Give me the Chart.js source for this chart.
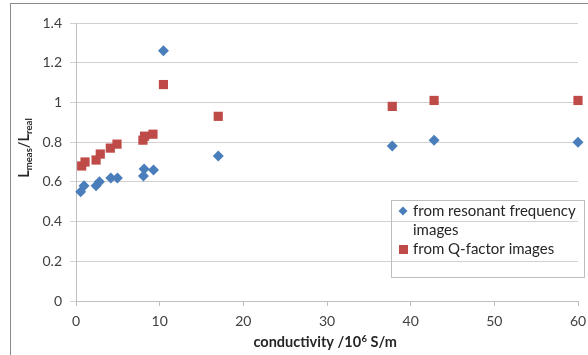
<!DOCTYPE html>
<html><head><meta charset="utf-8">
<script src="https://cdn.jsdelivr.net/npm/chart.js@4/dist/chart.umd.min.js"></script>
<style>html,body{margin:0;padding:0;background:#fff}#wrap{width:588px;height:355px;position:relative}</style>
</head><body><div id="wrap"><canvas id="c" width="588" height="355"></canvas></div>
<script>
// ---- data ----
const seriesNames = ['from resonant frequency images', 'from Q-factor images'];
const resonantX = [0.56, 0.96, 2.4, 2.8, 4.16, 4.95, 8.06, 8.14, 9.26, 10.45, 17.0, 37.8, 42.8, 60.0];
const resonantY = [0.55, 0.58, 0.58, 0.60, 0.62, 0.62, 0.63, 0.665, 0.66, 1.26, 0.73, 0.78, 0.81, 0.80];
const qfactorX = [0.68, 1.08, 2.4, 2.9, 4.1, 4.9, 8.0, 8.2, 9.2, 10.45, 17.0, 37.8, 42.8, 60.0];
const qfactorY = [0.68, 0.70, 0.71, 0.74, 0.77, 0.79, 0.81, 0.83, 0.84, 1.09, 0.93, 0.98, 1.01, 1.01];
const xTicks = [0, 10, 20, 30, 40, 50, 60];
const yTicks = [0, 0.2, 0.4, 0.6, 0.8, 1, 1.2, 1.4];
const yTickLabels = ['0', '0.2', '0.4', '0.6', '0.8', '1', '1.2', '1.4'];
const xTitleParts = ['conductivity /10', '6', ' S/m'];
const yTitleParts = ['L', 'meas', '/L', 'real'];

const pts = (xs, ys) => xs.map((x, i) => ({x, y: ys[i]}));
const FONT = 'Lato, "Open Sans", sans-serif';
const BLUE = '#4a7ebb', RED = '#be4b48';

const framePlugin = {
  id: 'frame',
  beforeDraw(chart) {
    const ctx = chart.ctx;
    ctx.save();
    ctx.strokeStyle = '#8a8a8a'; ctx.lineWidth = 1;
    ctx.strokeRect(10.5, 3.5, 700, 500);
    ctx.restore();
  },
  afterDraw(chart) {
    const ctx = chart.ctx;
    ctx.save();
    ctx.fillStyle = '#262626';
    // x title
    const big = 'bold 14.5px ' + FONT, small = 'bold 9.5px ' + FONT;
    ctx.font = big; const w0 = ctx.measureText(xTitleParts[0]).width, w2 = ctx.measureText(xTitleParts[2]).width;
    ctx.font = small; const w1 = ctx.measureText(xTitleParts[1]).width;
    let x = 325 - (w0 + w1 + w2) / 2, yb = 347;
    ctx.textBaseline = 'alphabetic'; ctx.textAlign = 'left';
    ctx.font = big; ctx.fillText(xTitleParts[0], x, yb); x += w0;
    ctx.font = small; ctx.fillText(xTitleParts[1], x + 0.5, yb - 5); x += w1 + 0.5;
    ctx.font = big; ctx.fillText(xTitleParts[2], x, yb);
    // y title
    ctx.translate(29, 148); ctx.rotate(-Math.PI / 2);
    const fonts = [big, small, big, small];
    const ws = yTitleParts.map((t, i) => { ctx.font = fonts[i]; return ctx.measureText(t).width; });
    let tx = -ws.reduce((s, v) => s + v, 0) / 2;
    yTitleParts.forEach((t, i) => {
      ctx.font = fonts[i];
      ctx.fillText(t, tx, i % 2 ? 3 : 0);
      tx += ws[i];
    });
    ctx.restore();
    // legend
    ctx.save();
    ctx.strokeStyle = '#bdbdbd'; ctx.lineWidth = 1;
    ctx.strokeRect(391.5, 200.5, 193, 77);
    ctx.font = '15px ' + FONT; ctx.fillStyle = '#262626'; ctx.textBaseline = 'middle';
    const ds = chart.data.datasets;
    const words = ds[0].label.split(' ');
    ctx.fillText(words.slice(0, 3).join(' '), 413, 211);
    ctx.fillText(words.slice(3).join(' '), 413, 230);
    ctx.fillText(ds[1].label, 413, 249);
    ctx.fillStyle = BLUE;
    ctx.beginPath(); ctx.moveTo(403, 206.5); ctx.lineTo(407.5, 211); ctx.lineTo(403, 215.5); ctx.lineTo(398.5, 211); ctx.closePath(); ctx.fill();
    ctx.fillStyle = RED;
    ctx.fillRect(399, 245, 9, 9);
    ctx.restore();
  }
};

new Chart(document.getElementById('c'), {
  type: 'scatter',
  data: {
    datasets: [
      { label: seriesNames[0], data: pts(resonantX, resonantY), pointStyle: 'rectRot', pointRadius: 5.5,
        backgroundColor: BLUE, borderColor: BLUE, borderWidth: 0, clip: false },
      { label: seriesNames[1], data: pts(qfactorX, qfactorY), pointStyle: 'rect', pointRadius: 6.5,
        backgroundColor: RED, borderColor: RED, borderWidth: 0, clip: false }
    ]
  },
  options: {
    responsive: false, animation: false, events: [],
    layout: { autoPadding: false, padding: { top: 23, right: 10, left: 0, bottom: 0 } },
    plugins: { legend: { display: false }, tooltip: { enabled: false } },
    scales: {
      x: {
        type: 'linear', min: 0, max: 60,
        afterBuildTicks: s => { s.ticks = xTicks.map(v => ({value: v})); },
        afterFit: s => { s.height = 54; s.paddingRight = 2; s.paddingLeft = 0; },
        grid: { drawOnChartArea: false, drawTicks: true, tickLength: 5, color: '#bfbfbf' },
        border: { color: '#bfbfbf' },
        ticks: { padding: 7, color: '#404040', font: { family: FONT, size: 14 }, callback: v => String(v) }
      },
      y: {
        min: 0, max: 1.4,
        afterBuildTicks: s => { s.ticks = yTicks.map(v => ({value: v})); },
        afterFit: s => { s.width = 76; },
        grid: { color: '#d0d0d0', tickLength: 6 },
        border: { color: '#bfbfbf' },
        ticks: { padding: 8, color: '#404040', font: { family: FONT, size: 14 },
                 callback: (v, i) => yTickLabels[yTicks.indexOf(v)] ?? String(v) }
      }
    }
  },
  plugins: [framePlugin]
});
</script></body></html>
